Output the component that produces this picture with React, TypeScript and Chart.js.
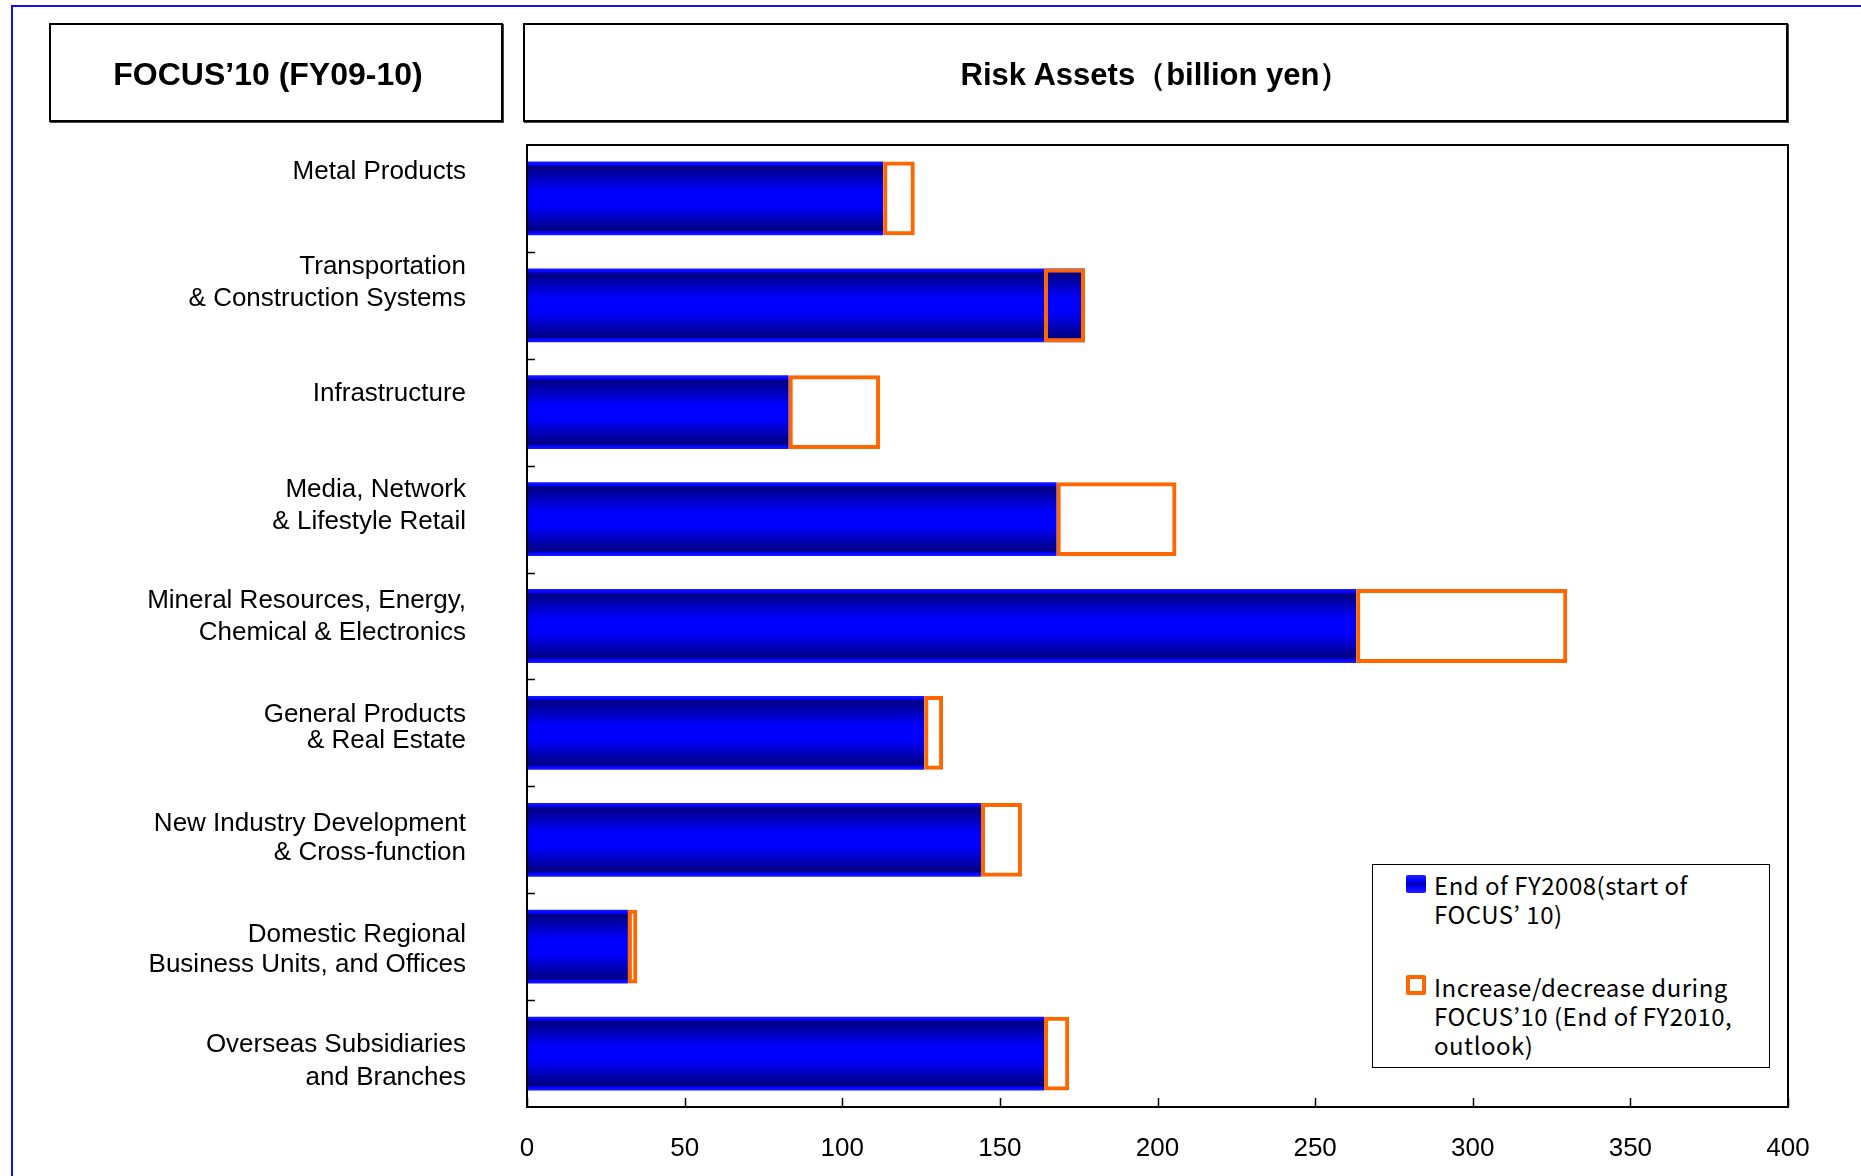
import React, { useEffect, useRef } from 'react';
import { Chart, registerables } from 'chart.js';

Chart.register(...registerables);

// ---- data ----
const categories: (string | string[])[] = [
  'Metal Products',
  ['Transportation', '& Construction Systems'],
  'Infrastructure',
  ['Media, Network', '& Lifestyle Retail'],
  ['Mineral Resources, Energy,', 'Chemical & Electronics'],
  ['General Products', '& Real Estate'],
  ['New Industry Development', '& Cross-function'],
  ['Domestic Regional', 'Business Units, and Offices'],
  ['Overseas Subsidiaries', 'and Branches'],
];
const endFY2008 = [113, 177, 83, 168, 263, 126, 144, 32, 164];
const endFY2010Outlook = [123, 164, 112, 206, 330, 132, 157, 35, 172];
const xMin = 0;
const xMax = 400;
const xStep = 50;
const leftTitle = 'FOCUS’10 (FY09-10)';
const rightTitle = 'Risk Assets（billion yen）';
const legendBase = ['End of FY2008(start of', 'FOCUS’ 10)'];
const legendChange = ['Increase/decrease during', 'FOCUS’10 (End of FY2010,', 'outlook)'];

// label line spacing (style only)
const labelLineHeights = [31, 32, 31, 32, 32, 26, 29, 30, 33];

const BAR_FRACTION = 0.69;

const framePlugin = {
  id: 'frameTicks',
  afterDatasetsDraw(chart: any) {
    const { ctx, chartArea: a, scales } = chart;
    const y = scales.y;
    const x = scales.x;
    ctx.save();
    ctx.strokeStyle = '#000';
    ctx.lineWidth = 1.5;
    ctx.beginPath();
    for (let i = 0; i < categories.length - 1; i++) {
      const py = Math.round((y.getPixelForValue(i) + y.getPixelForValue(i + 1)) / 2) + 0.5;
      ctx.moveTo(a.left, py);
      ctx.lineTo(a.left + 8, py);
    }
    x.ticks.forEach((t: any) => {
      const px = Math.round(x.getPixelForValue(t.value)) + 0.5;
      ctx.moveTo(px, a.bottom);
      ctx.lineTo(px, a.bottom - 9);
    });
    ctx.stroke();
    ctx.lineWidth = 2;
    ctx.strokeStyle = '#000';
    ctx.strokeRect(a.left, a.top, a.right - a.left, a.bottom - a.top);
    ctx.restore();
  },
};

function blueGradient(context: any) {
  const chart = context.chart;
  const area = chart.chartArea;
  const yScale = chart.scales.y;
  if (!area || !yScale) return '#0000ff';
  const center = yScale.getPixelForValue(context.dataIndex);
  const half = ((area.bottom - area.top) / categories.length) * BAR_FRACTION / 2;
  const g = chart.ctx.createLinearGradient(0, center - half, 0, center + half);
  g.addColorStop(0, '#1a1aff');
  g.addColorStop(0.05, '#0000ff');
  g.addColorStop(0.065, '#000080');
  g.addColorStop(0.4, '#0000ff');
  g.addColorStop(0.6, '#0000ff');
  g.addColorStop(0.935, '#000080');
  g.addColorStop(0.95, '#0000ff');
  g.addColorStop(1, '#1a1aff');
  return g;
}

const LABEL_MIN = -0.243;
const LABEL_MAX = 8.415;

export default function App() {
  const canvasRef = useRef<HTMLCanvasElement | null>(null);

  useEffect(() => {
    document.body.style.margin = '0';
    document.documentElement.style.overflow = 'hidden';
    const canvas = canvasRef.current;
    if (!canvas) return;
    Chart.defaults.font.family = '"Liberation Sans", Arial, sans-serif';
    const n = categories.length;
    const chart = new Chart(canvas, {
      type: 'bar',
      data: {
        labels: categories as any,
        datasets: [
          {
            label: legendChange.join(' '),
            data: endFY2008.map((b, i) => [Math.min(b, endFY2010Outlook[i]), Math.max(b, endFY2010Outlook[i])]) as any,
            backgroundColor: 'rgba(0,0,0,0)',
            borderColor: '#ff6600',
            borderWidth: 4,
            borderSkipped: false,
            order: 0,
            yAxisID: 'y',
            xAxisID: 'x',
          },
          {
            label: legendBase.join(' '),
            data: endFY2008,
            backgroundColor: blueGradient as any,
            borderWidth: 0,
            order: 1,
            yAxisID: 'y',
            xAxisID: 'x',
          },
        ],
      },
      options: {
        indexAxis: 'y',
        responsive: false,
        maintainAspectRatio: false,
        animation: false,
        devicePixelRatio: 1,
        layout: { padding: { top: 145, right: 73, bottom: 0, left: 0 } },
        datasets: {
          bar: { grouped: false, barPercentage: BAR_FRACTION, categoryPercentage: 1 },
        },
        plugins: { legend: { display: false }, tooltip: { enabled: false }, title: { display: false } },
        scales: {
          y: {
            type: 'category',
            offset: true,
            display: false,
          },
          yl: {
            type: 'linear',
            position: 'left',
            reverse: true,
            offset: false,
            bounds: 'data',
            min: LABEL_MIN,
            max: LABEL_MAX,
            grid: { display: false, drawTicks: false, offset: false },
            border: { display: false },
            afterDataLimits: (s: any) => {
              s.min = LABEL_MIN;
              s.max = LABEL_MAX;
            },
            afterBuildTicks: (s: any) => {
              s.ticks = categories.map((_, i) => ({ value: i }));
            },
            ticks: {
              autoSkip: false,
              padding: 61,
              color: '#000',
              font: (c: any) => ({ size: 26, lineHeight: (labelLineHeights[c.index] ?? 31) + 'px' }),
              callback: (v: any) => (Number.isInteger(v) && v >= 0 && v < n ? (categories[v] as any) : ''),
            },
            afterFit: (s: any) => {
              s.width = 527;
              s.paddingTop = 0;
              s.paddingBottom = 0;
            },
          },
          x: {
            type: 'linear',
            position: 'bottom',
            min: xMin,
            max: xMax,
            grid: { display: false, drawTicks: false },
            border: { display: false },
            ticks: {
              stepSize: xStep,
              padding: 26,
              color: '#000',
              font: { size: 26 },
              maxRotation: 0,
            },
            afterFit: (s: any) => {
              s.height = 69;
            },
          },
        },
      } as any,
      plugins: [framePlugin],
    });
    return () => chart.destroy();
  }, []);

  const boxStyle: React.CSSProperties = {
    position: 'absolute',
    boxSizing: 'border-box',
    border: '2px solid #000',
    boxShadow: '1px 1px 0 #444',
    background: '#fff',
    display: 'flex',
    alignItems: 'center',
    justifyContent: 'center',
    fontFamily: '"Liberation Sans", Arial, sans-serif',
    fontWeight: 'bold',
    fontSize: 31,
    color: '#000',
    paddingTop: 4,
  };

  const legendText: React.CSSProperties = {
    position: 'absolute',
    left: 61,
    fontFamily: '"Noto Sans CJK JP", sans-serif',
    fontSize: 24,
    letterSpacing: 0.5,
    lineHeight: '29px',
    color: '#000',
    whiteSpace: 'pre',
  };

  return (
    <div
      style={{
        position: 'fixed',
        left: 0,
        top: 0,
        width: 1861,
        height: 1176,
        overflow: 'hidden',
        background: '#fff',
      }}
    >
      <div
        style={{
          position: 'absolute',
          left: 11,
          top: 5,
          width: 2000,
          height: 2000,
          borderLeft: '2px solid #1010ff',
          borderTop: '2px solid #1010ff',
        }}
      />
      <canvas
        ref={canvasRef}
        width={1861}
        height={1176}
        style={{ position: 'absolute', left: 0, top: 0, width: 1861, height: 1176 }}
      />
      <div style={{ ...boxStyle, left: 49, top: 23, width: 454, height: 99, fontSize: 32, paddingRight: 16 }}>
        {leftTitle}
      </div>
      <div style={{ ...boxStyle, left: 523, top: 23, width: 1265, height: 99 }}>{rightTitle}</div>
      <div
        style={{
          position: 'absolute',
          left: 1372,
          top: 864,
          width: 398,
          height: 204,
          boxSizing: 'border-box',
          border: '1.5px solid #000',
          background: '#fff',
        }}
      >
        <div
          style={{
            position: 'absolute',
            left: 33,
            top: 10,
            width: 20,
            height: 18,
            borderRadius: 2,
            background: 'linear-gradient(#2020ff 0%, #0000ff 35%, #0000a0 50%, #0000ff 65%, #2020ff 100%)',
          }}
        />
        <div style={{ ...legendText, top: 5 }}>{legendBase.join('\n')}</div>
        <div
          style={{
            position: 'absolute',
            left: 33,
            top: 110,
            width: 20,
            height: 20,
            boxSizing: 'border-box',
            borderRadius: 2,
            border: '4px solid #ff6600',
            background: '#fff',
          }}
        />
        <div style={{ ...legendText, top: 107 }}>{legendChange.join('\n')}</div>
      </div>
    </div>
  );
}
